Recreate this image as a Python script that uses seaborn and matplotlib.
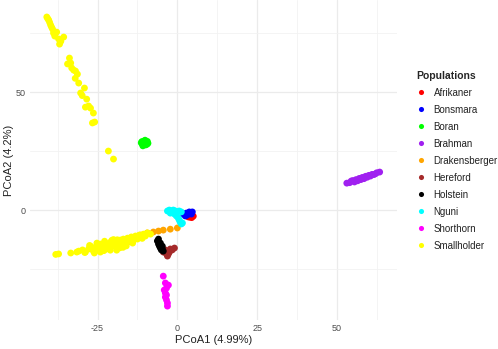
import pandas as pd
import matplotlib
matplotlib.use("Agg")
import matplotlib.pyplot as plt
import seaborn as sns

# PCoA coordinates, per population
afrikaner_x = [3.9, 4.5, 5.0, 3.4, 4.2]
afrikaner_y = [-3.0, -3.2, -2.6, -2.9, -2.7]

bonsmara_x = [1.9, 2.8, 3.75, 4.7, 4.4, 3.1, 2.5, 4.0]
bonsmara_y = [-1.7, -1.3, -0.8, -0.8, -1.7, -2.1, -2.5, -1.2]

boran_x = [-10.3, -11.0, -9.6, -10.5, -9.9, -10.8, -9.5, -10.1, -11.1, -9.4, -11.3, -9.2]
boran_y = [28.4, 28.0, 28.8, 29.2, 27.6, 27.2, 27.9, 29.6, 29.0, 29.1, 28.5, 28.3]

brahman_x = [53.1, 54.0, 55.0, 55.5, 56.0, 56.5, 57.0, 57.5, 58.0, 58.5, 59.0,
             59.5, 60.0, 60.5, 61.0, 61.5, 62.0, 62.5, 63.4, 54.5, 57.8]
brahman_y = [11.4, 11.6, 12.5, 11.9, 12.9, 12.4, 13.4, 12.9, 13.8, 13.3, 14.3,
             13.9, 14.7, 14.4, 15.1, 15.0, 15.3, 15.8, 16.1, 12.3, 13.6]

drakensberger_x = [-9.4, -7.5, -5.9, -4.4, -2.2, 0.0, -11.6, -13.8, -15.3, -12.5]
drakensberger_y = [-9.7, -9.3, -8.9, -8.5, -8.1, -7.6, -10.6, -12.6, -13.3, -11.8]

hereford_x = [-4.4, -3.4, -3.1, -2.5, -1.6, -0.9, -2.2, -3.75, -2.8]
hereford_y = [-17.8, -18.6, -19.5, -17.8, -16.9, -16.1, -16.5, -16.9, -18.6]

holstein_x = [-6.25, -5.9, -5.6, -5.3, -5.0, -4.7, -5.3, -4.7, -5.9, -4.4]
holstein_y = [-13.1, -14.4, -15.3, -16.1, -16.9, -16.5, -14.0, -15.3, -12.3, -17.4]

nguni_x = [-3.1, -2.5, -1.9, -1.25, -0.6, 0.0, 0.6, 1.25, -2.2, -0.9, -0.3,
           0.3, 0.6, 0.9, 1.25, 1.6, -1.6]
nguni_y = [-0.4, 0.0, -0.4, 0.0, -0.4, -0.8, -0.4, -0.8, -1.3, -1.7, -2.5,
           -3.4, -4.2, -5.1, -5.9, -5.5, -0.8]

shorthorn_x = [-4.4, -3.75, -2.8, -4.1, -3.75, -3.75, -3.4, -3.1, -3.1, -3.4, -3.4]
shorthorn_y = [-28.0, -30.9, -31.8, -33.9, -35.2, -36.9, -38.1, -39.4, -40.7, -36.0, -33.1]

smallholder_x = [-40.9, -40.3, -39.7, -39.1, -38.8, -38.4, -37.2, -36.9, -35.6,
                 -33.8, -34.4, -33.1, -32.5, -31.3, -30.9, -29.1, -30.3, -28.4,
                 -28.8, -27.2, -26.3, -25.9, -26.6, -21.6, -20.0, -40.6, -39.4,
                 -37.8, -33.4, -31.9, -27.8, -40.0, -36.5, -32.0, -29.8,
                 -38.1, -37.2, -33.4, -30.9, -29.7, -28.8, -27.8, -27.2, -26.3,
                 -25.6, -25.0, -24.1, -24.1, -23.1, -22.5, -22.2, -21.6, -20.9,
                 -20.3, -19.7, -19.1, -18.4, -17.8, -17.5, -16.9, -16.3, -15.6,
                 -15.0, -14.4, -13.8, -13.1, -12.5, -11.9, -11.3, -10.6, -10.0,
                 -9.4, -8.4, -23.8, -21.0, -18.0, -16.0, -26.8, -20.0,
                 -29.0, -26.0, -24.5, -23.0, -21.5, -20.5, -19.0, -18.8, -17.0,
                 -15.5, -14.0, -12.8, -11.0, -22.8, -25.2, -27.5, -31.5]
smallholder_y = [81.8, 80.5, 78.4, 76.7, 75.0, 73.7, 72.5, 70.3, 73.3,
                 64.4, 61.9, 60.2, 59.3, 57.6, 53.8, 51.7, 49.6, 47.0,
                 43.6, 43.2, 41.1, 37.3, 36.9, 25.0, 21.6, 81.1, 77.5,
                 75.4, 62.3, 58.9, 44.1, 79.5, 71.5, 55.8, 48.5,
                 -18.8, -18.6, -18.2, -17.4, -16.9, -17.8, -16.5, -15.3, -17.4,
                 -15.7, -16.9, -14.4, -17.8, -15.7, -14.0, -16.5, -14.8, -13.6,
                 -15.3, -13.1, -15.3, -14.0, -12.7, -14.4, -12.3, -13.6, -11.9,
                 -13.1, -11.4, -12.7, -11.0, -12.3, -10.6, -11.4, -10.2, -11.0,
                 -9.7, -10.2, -16.1, -17.0, -16.0, -15.2, -16.0, -12.5,
                 -18.0, -18.2, -16.5, -17.2, -16.0, -12.8, -17.0, -12.6, -15.8,
                 -12.2, -14.0, -11.8, -12.0, -13.2, -14.0, -15.0, -17.8]

populations = ["Afrikaner", "Bonsmara", "Boran", "Brahman", "Drakensberger",
               "Hereford", "Holstein", "Nguni", "Shorthorn", "Smallholder"]
colours = ["#FF0000", "#0000FF", "#00FF00", "#A020F0", "#FFA500",
           "#A52A2A", "#000000", "#00FFFF", "#FF00FF", "#FFFF00"]

coords = {
    "Afrikaner": (afrikaner_x, afrikaner_y),
    "Bonsmara": (bonsmara_x, bonsmara_y),
    "Boran": (boran_x, boran_y),
    "Brahman": (brahman_x, brahman_y),
    "Drakensberger": (drakensberger_x, drakensberger_y),
    "Hereford": (hereford_x, hereford_y),
    "Holstein": (holstein_x, holstein_y),
    "Nguni": (nguni_x, nguni_y),
    "Shorthorn": (shorthorn_x, shorthorn_y),
    "Smallholder": (smallholder_x, smallholder_y),
}

# drawing order: orange under the yellow band, small groups near origin on top
draw_order = ["Drakensberger", "Smallholder", "Afrikaner", "Bonsmara", "Boran",
              "Brahman", "Hereford", "Holstein", "Nguni", "Shorthorn"]

frames = []
for pop in draw_order:
    xs, ys = coords[pop]
    frames.append(pd.DataFrame({"PCoA1": xs, "PCoA2": ys, "Populations": pop}))
df = pd.concat(frames, ignore_index=True)

sns.set_style("white")
plt.rcParams["font.family"] = ["Liberation Sans", "DejaVu Sans"]
plt.rcParams["axes.unicode_minus"] = False

fig = plt.figure(figsize=(4.98, 3.49), dpi=100)
ax = fig.add_axes([0.060, 0.083, 0.737, 0.917])

sns.scatterplot(data=df, x="PCoA1", y="PCoA2", hue="Populations",
                hue_order=populations, palette=dict(zip(populations, colours)),
                s=24, linewidth=0, ax=ax, zorder=3)

ax.set_xlim(-46.2, 68.8)
ax.set_ylim(-46.6, 89.0)
ax.set_xticks([-25, 0, 25, 50])
ax.set_yticks([0, 50])
ax.set_xticks([-37.5, -12.5, 12.5, 37.5, 62.5], minor=True)
ax.set_yticks([-25, 25, 75], minor=True)
ax.grid(True, which="major", color="#EBEBEB", linewidth=0.9)
ax.grid(True, which="minor", color="#F2F2F2", linewidth=0.6)
ax.set_axisbelow(True)
for sp in ax.spines.values():
    sp.set_visible(False)
ax.tick_params(which="both", length=0, labelsize=6.5, labelcolor="#4D4D4D", pad=3)
ax.set_xlabel("PCoA1 (4.99%)", fontsize=8, color="#222222", labelpad=1)
ax.set_ylabel("PCoA2 (4.2%)", fontsize=8, color="#222222", labelpad=1)

leg = fig.legend(*ax.get_legend_handles_labels(), title="Populations",
                 loc="upper left", bbox_to_anchor=(0.818, 0.822),
                 frameon=False, fontsize=7, title_fontsize=7.5,
                 handlelength=1.0, handletextpad=0.8, labelspacing=0.72,
                 markerscale=0.75)
ax.get_legend().remove()
leg.get_title().set_fontweight("bold")
leg._legend_box.align = "left"
for t in leg.get_texts():
    t.set_color("#222222")

fig.savefig("out.png", dpi=100)
